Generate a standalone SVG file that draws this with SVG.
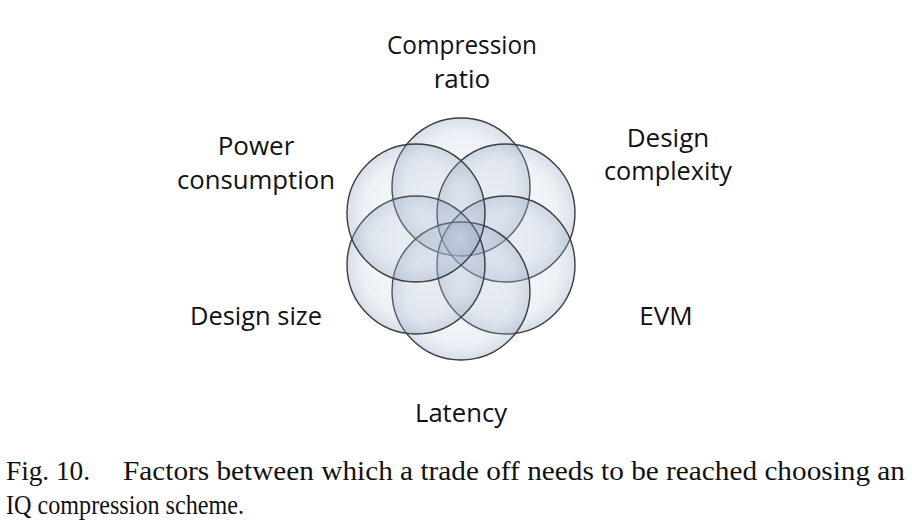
<svg xmlns="http://www.w3.org/2000/svg" width="912" height="532" viewBox="0 0 912 532">
  <style>
    .lbl { font-family: "Open Sans", "Noto Sans", "Liberation Sans", sans-serif; font-size: 26px; fill: #111; text-anchor: middle; }
    .cap { font-family: "Liberation Serif", "Times New Roman", serif; font-size: 28px; fill: #111; }
    .bub { fill: url(#bubble); stroke: #3c3c3c; stroke-width: 1.4; }
  </style>
  <defs>
    <radialGradient id="bubble" cx="0.5" cy="0.5" r="0.5">
      <stop offset="0" stop-color="#b4c3da" stop-opacity="0.12"/>
      <stop offset="0.75" stop-color="#a9b9d2" stop-opacity="0.2"/>
      <stop offset="1" stop-color="#8c9fbd" stop-opacity="0.34"/>
    </radialGradient>
  </defs>
  <rect width="912" height="532" fill="#ffffff"/>

  <g id="compression-ratio">
    <circle class="bub" cx="461" cy="187" r="69"/>
    <text class="lbl" x="462" y="54" textLength="150" lengthAdjust="spacingAndGlyphs">Compression</text>
    <text class="lbl" x="462" y="88">ratio</text>
  </g>
  <g id="design-complexity">
    <circle class="bub" cx="506" cy="213" r="69"/>
    <text class="lbl" x="668" y="147">Design</text>
    <text class="lbl" x="668" y="180" textLength="128" lengthAdjust="spacingAndGlyphs">complexity</text>
  </g>
  <g id="evm">
    <circle class="bub" cx="506" cy="265" r="69"/>
    <text class="lbl" x="666" y="325">EVM</text>
  </g>
  <g id="latency">
    <circle class="bub" cx="461" cy="291" r="69"/>
    <text class="lbl" x="461" y="422" textLength="92" lengthAdjust="spacingAndGlyphs">Latency</text>
  </g>
  <g id="design-size">
    <circle class="bub" cx="416" cy="265" r="69"/>
    <text class="lbl" x="256" y="325" textLength="132" lengthAdjust="spacingAndGlyphs">Design size</text>
  </g>
  <g id="power-consumption">
    <circle class="bub" cx="416" cy="213" r="69"/>
    <text class="lbl" x="256" y="155">Power</text>
    <text class="lbl" x="256" y="189" textLength="158" lengthAdjust="spacingAndGlyphs">consumption</text>
  </g>

  <g id="connectors"></g>

  <g id="caption">
    <text class="cap" x="6" y="480" textLength="84" lengthAdjust="spacingAndGlyphs">Fig. 10.</text>
    <text class="cap" x="123" y="480" textLength="782" lengthAdjust="spacingAndGlyphs">Factors between which a trade off needs to be reached choosing an</text>
    <text class="cap" x="6" y="514" textLength="238" lengthAdjust="spacingAndGlyphs">IQ compression scheme.</text>
  </g>
</svg>
